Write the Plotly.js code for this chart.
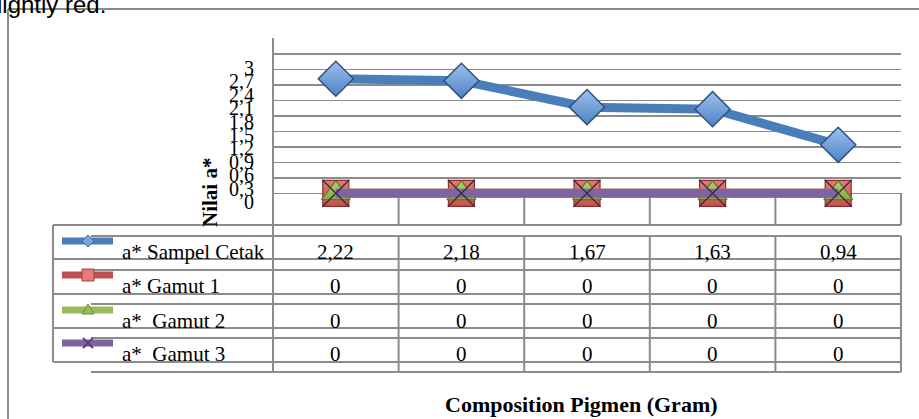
<!DOCTYPE html>
<html>
<head>
<meta charset="utf-8">
<script src="https://cdn.plot.ly/plotly-3.0.1.min.js"></script>
<style>
  html, body { margin: 0; padding: 0; background: #fff; }
  #chart { width: 919px; height: 419px; }
</style>
</head>
<body>
<div id="chart"></div>
<script>
// ---- data ----
const columns = [0, 1, 2, 3, 4];
const seriesNames = ['a* Sampel Cetak', 'a* Gamut 1', 'a*\u00a0 Gamut 2', 'a*\u00a0 Gamut 3'];
const sampelCetak = [2.22, 2.18, 1.67, 1.63, 0.94];
const gamut1 = [0, 0, 0, 0, 0];
const gamut2 = [0, 0, 0, 0, 0];
const gamut3 = [0, 0, 0, 0, 0];
const yTicks = [0, 0.3, 0.6, 0.9, 1.2, 1.5, 1.8, 2.1, 2.4, 2.7, 3];
const yTickLabels = ['0', '0,3', '0,6', '0,9', '1,2', '1,5', '1,8', '2,1', '2,4', '2,7', '3'];

// ---- geometry of the plot box (pixels) ----
const W = 919, H = 419;
const L = 273, R = 901, T = 38, B = 225;
const fx = p => (p - L) / (R - L);
const fy = p => (B - p) / (B - T);
const yRange = [-0.614, 3.01];
const GRID = '#8c8c8c';
const SERIF = 'Liberation Serif, Times New Roman, serif';

const fmt = v => (v === 0 ? '0' : v.toFixed(2).replace('.', ','));

const colors = ['#4a7ebb', '#c0504d', '#9bbb59', '#8064a2'];

const traces = [
  {
    x: columns, y: sampelCetak, mode: 'lines+markers', name: seriesNames[0],
    line: { color: colors[0], width: 9 },
    marker: { symbol: 'diamond', size: 27, color: '#9cc0ee',
              gradient: { type: 'vertical', color: '#4f82c4' },
              line: { color: '#2d5180', width: 1.5 } }
  },
  {
    x: columns, y: gamut1, mode: 'lines+markers', name: seriesNames[1],
    line: { color: colors[1], width: 9 },
    marker: { symbol: 'square', size: 26, color: '#e57a76',
              gradient: { type: 'vertical', color: '#c9504d' },
              line: { color: '#8b2e2c', width: 1.2 } }
  },
  {
    x: columns, y: gamut2, mode: 'lines+markers', name: seriesNames[2],
    line: { color: colors[2], width: 9 },
    marker: { symbol: 'triangle-up', size: 25, color: '#b5d46e',
              gradient: { type: 'vertical', color: '#86a843' },
              line: { color: '#5e7a2e', width: 1.2 } }
  },
  {
    x: columns, y: gamut3, mode: 'lines+markers', name: seriesNames[3],
    line: { color: colors[3], width: 9 },
    marker: { symbol: 'x-thin', size: 27, color: '#3c2a4a',
              line: { color: '#3c2a4a', width: 1.3 } }
  }
];

// ---- lines of the frame, plot box and data table ----
const shapes = [];
const hline = (y, x0, x1, color, width) => shapes.push({
  type: 'line', xref: 'paper', yref: 'paper',
  x0: fx(x0), x1: fx(x1), y0: fy(y), y1: fy(y),
  line: { color: color || GRID, width: width || 2 }
});
const vline = (x, y0, y1) => shapes.push({
  type: 'line', xref: 'paper', yref: 'paper',
  x0: fx(x), x1: fx(x), y0: fy(y0), y1: fy(y1),
  line: { color: GRID, width: 2 }
});

// outer chart border
hline(9, 8, W + 5);
vline(8, 9, H + 5);

// plot box: left edge, bottom, right stub
vline(L, T, 372);
hline(B, 53, R);
vline(R, 193, B);
// category separators under the zero line
columns.slice(0, -1).forEach(i => shapes.push({
  type: 'line', xref: 'x', yref: 'y', layer: 'below',
  x0: i + 0.5, x1: i + 0.5, y0: yRange[0], y1: 0,
  line: { color: GRID, width: 2 }
}));

// data table: two offset sets of row lines
[259, 294, 328, 362].forEach(y => hline(y, 53, R));
[236, 270, 304, 338, 372].forEach(y => hline(y, 91, R));
vline(53, 225, 362);
columns.forEach(i => {
  const xp = L + (i + 1) * (R - L) / columns.length;
  vline(xp, 236, 372);
});

// legend keys inside the table
const keyY = [241, 275, 310, 343];
const poly = pts => 'M' + pts.map(p => fx(p[0]) + ',' + fy(p[1])).join('L') + 'Z';
keyY.forEach((y, k) => hline(y, 62, 113, colors[k], 7));
const kx = 88;
shapes.push({ type: 'path', xref: 'paper', yref: 'paper',
  path: poly([[kx, keyY[0] - 6], [kx + 6, keyY[0]], [kx, keyY[0] + 6], [kx - 6, keyY[0]]]),
  fillcolor: '#7aa6e0', line: { color: '#3d6aa0', width: 1 } });
shapes.push({ type: 'path', xref: 'paper', yref: 'paper',
  path: poly([[kx - 6, keyY[1] - 6], [kx + 6, keyY[1] - 6], [kx + 6, keyY[1] + 6], [kx - 6, keyY[1] + 6]]),
  fillcolor: '#e57a76', line: { color: '#a8403d', width: 1 } });
shapes.push({ type: 'path', xref: 'paper', yref: 'paper',
  path: poly([[kx, keyY[2] - 6], [kx + 6, keyY[2] + 4], [kx - 6, keyY[2] + 4]]),
  fillcolor: '#9bbb59', line: { color: '#6e8a3a', width: 1 } });
shapes.push({ type: 'path', xref: 'paper', yref: 'paper',
  path: 'M' + fx(kx - 5) + ',' + fy(keyY[3] - 5) + 'L' + fx(kx + 5) + ',' + fy(keyY[3] + 5) +
        'M' + fx(kx + 5) + ',' + fy(keyY[3] - 5) + 'L' + fx(kx - 5) + ',' + fy(keyY[3] + 5),
  line: { color: '#5a4178', width: 2 } });

// ---- text ----
const annotations = [];
const txt = (o) => annotations.push(Object.assign({ showarrow: false, xref: 'paper', yref: 'paper' }, o));

// y tick labels, tightly stacked
yTickLabels.forEach((lab, i) => {
  const yc = 202 - i * 13.4;
  txt({ x: fx(256), y: fy(yc), xanchor: 'right', yanchor: 'middle', text: lab,
        font: { family: SERIF, size: 20, color: '#000' } });
});

// axis titles
txt({ x: fx(210), y: fy(193), xanchor: 'center', yanchor: 'middle', textangle: -90,
      text: '<b>Nilai a*</b>', font: { family: SERIF, size: 21, color: '#000' } });
txt({ x: fx(581), y: fy(404), xanchor: 'center', yanchor: 'middle',
      text: '<b>Composition Pigmen (Gram)</b>', font: { family: SERIF, size: 22, color: '#000' } });

// table: series names and values
const rowBase = [258, 292, 327, 360];
const tableSeries = [sampelCetak, gamut1, gamut2, gamut3];
tableSeries.forEach((vals, k) => {
  const yc = rowBase[k] - 6;
  txt({ x: fx(120), y: fy(yc), xanchor: 'left', yanchor: 'middle', text: seriesNames[k],
        font: { family: SERIF, size: 21, color: '#000' } });
  vals.forEach((v, i) => annotations.push({
    showarrow: false, xref: 'x', yref: 'paper', x: columns[i], y: fy(yc),
    xanchor: 'center', yanchor: 'middle', text: fmt(v),
    font: { family: SERIF, size: 21, color: '#000' }
  }));
});

// running text above the chart frame
txt({ x: fx(-17), y: fy(5), xanchor: 'left', yanchor: 'middle', text: 'slightly red.',
      font: { family: 'Liberation Sans, Arial, sans-serif', size: 24, color: '#000' } });

const layout = {
  width: W, height: H,
  margin: { l: L, r: W - R, t: T, b: H - B, pad: 0 },
  paper_bgcolor: '#fff', plot_bgcolor: '#fff',
  showlegend: false,
  xaxis: { range: [-0.5, columns.length - 0.5], showgrid: false, zeroline: false,
           showline: false, showticklabels: false, ticks: '' },
  yaxis: { range: yRange, tickvals: yTicks, showticklabels: false, ticks: '',
           showgrid: true, gridcolor: GRID, gridwidth: 1.6, zeroline: false, showline: false },
  shapes: shapes,
  annotations: annotations
};

Plotly.newPlot('chart', traces, layout, { staticPlot: true, displayModeBar: false });
</script>
</body>
</html>
